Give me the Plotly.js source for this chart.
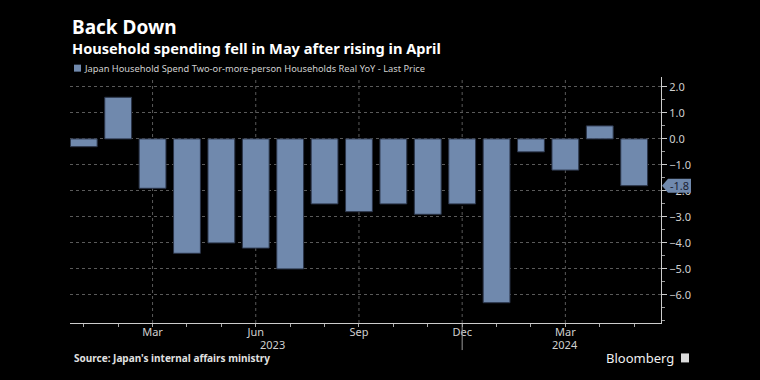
<!DOCTYPE html>
<html>
<head>
<meta charset="utf-8">
<script src="https://cdn.plot.ly/plotly-3.0.1.min.js"></script>
<style>html,body{margin:0;padding:0;background:#000;}#chart{width:760px;height:380px;}</style>
</head>
<body>
<div id="chart"></div>
<script>
// Data
const months = ["2023-01","2023-02","2023-03","2023-04","2023-05","2023-06","2023-07","2023-08","2023-09","2023-10","2023-11","2023-12","2024-01","2024-02","2024-03","2024-04","2024-05"];
const monthLabels = ["", "", "Mar", "", "", "Jun", "", "", "Sep", "", "", "Dec", "", "", "Mar", "", ""];
const spendYoY = [-0.3, 1.6, -1.9, -4.4, -4.0, -4.2, -5.0, -2.5, -2.8, -2.5, -2.9, -2.5, -6.3, -0.5, -1.2, 0.5, -1.8];
const yTicks = [2, 1, 0, -1, -2, -3, -4, -5, -6];
const years = ["2023", "2024"];
const seriesName = "Japan Household Spend Two-or-more-person Households Real YoY - Last Price";

const barColor = "#7089ad";
const textColor = "#d0d0d0";
const font = "Noto Sans, DejaVu Sans, sans-serif";

const idx = months.map((m, i) => i);
const lastVal = spendYoY[spendYoY.length - 1];

const yearAnns = years.map(y => {
  const ii = idx.filter(i => months[i].startsWith(y));
  const mid = (ii[0] + ii[ii.length - 1]) / 2;
  return {x: mid, xref: "x", y: -0.088, yref: "paper", text: y, showarrow: false,
          yanchor: "middle", font: {family: font, size: 11, color: textColor}};
});

const labeled = idx.filter(i => monthLabels[i] !== "");
const shapes = labeled.map(i => ({
  type: "line", xref: "x", yref: "paper", x0: i, x1: i, y0: 0, y1: 1,
  line: {color: "#5a5a5a", width: 1, dash: "dot"}, layer: "below"
}));
const decIdx = idx.find(i => months[i] === "2023-12");
shapes.push({type: "line", xref: "x", yref: "paper", x0: decIdx, x1: decIdx, y0: -0.004, y1: -0.11,
  line: {color: "#9a9a9a", width: 1}});

// last price tag
shapes.push({
  type: "path", xref: "paper", yref: "y", xsizemode: "pixel", ysizemode: "pixel",
  xanchor: 1, yanchor: lastVal,
  path: "M 1,0 L 7,-7 L 30,-7 L 30,7 L 7,7 Z",
  fillcolor: barColor, line: {width: 0}
});
// legend swatch
shapes.push({
  type: "rect", xref: "paper", yref: "paper", xsizemode: "pixel", ysizemode: "pixel",
  xanchor: 0, yanchor: 1.036, x0: 4, x1: 11, y0: -3.5, y1: 3.5,
  fillcolor: barColor, line: {width: 0}
});
// Bloomberg logo mark
shapes.push({
  type: "rect", xref: "paper", yref: "paper", xsizemode: "pixel", ysizemode: "pixel",
  xanchor: 1, yanchor: -0.142, x0: 20, x1: 28, y0: -4.5, y1: 4.5,
  fillcolor: "#dcdcdc", line: {width: 0}
});

const data = [{
  type: "bar", x: idx, y: spendYoY, name: seriesName,
  marker: {color: barColor, line: {color: "#2a3448", width: 1}},
  width: 0.78, hoverinfo: "skip"
}];

const layout = {
  width: 760, height: 380,
  paper_bgcolor: "#000", plot_bgcolor: "#000",
  margin: {l: 70, r: 99, t: 77, b: 57},
  showlegend: false,
  font: {family: font, color: textColor, size: 11},
  xaxis: {
    type: "linear", range: [-0.4, 16.78],
    tickmode: "array", tickvals: idx, ticktext: monthLabels,
    ticks: "outside", ticklen: 3, tickcolor: "#aaa", ticklabelstandoff: -4,
    showgrid: false, zeroline: false,
    showline: true, linecolor: "#ccc", linewidth: 1,
    tickfont: {family: font, size: 11, color: textColor}
  },
  yaxis: {
    side: "right", range: [-7.08, 2.38],
    tickmode: "array", tickvals: yTicks, tickformat: ".1f",
    ticks: "outside", ticklen: 5, tickcolor: "#ccc",
    minor: {dtick: 0.5, tick0: 0, ticks: "outside", ticklen: 3, tickcolor: "#999", showgrid: false},
    showgrid: true, gridcolor: "#5a5a5a", griddash: "dot",
    zeroline: false, showline: true, linecolor: "#ccc", linewidth: 1,
    tickfont: {family: font, size: 11, color: textColor}
  },
  shapes: shapes,
  annotations: [
    {x: 0, xref: "paper", y: 1.204, yref: "paper", xanchor: "left", yanchor: "middle", showarrow: false,
     text: "<b>Back Down</b>", font: {family: font, size: 19, color: "#ffffff"}},
    {x: 0, xref: "paper", y: 1.117, yref: "paper", xanchor: "left", yanchor: "middle", showarrow: false,
     text: "<b>Household spending fell in May after rising in April</b>", font: {family: font, size: 14.6, color: "#ffffff"}},
    {x: 0, xref: "paper", xshift: 12, y: 1.036, yref: "paper", xanchor: "left", yanchor: "middle", showarrow: false,
     text: seriesName, font: {family: font, size: 9.3, color: textColor}},
    {x: 1, xref: "paper", xshift: 7, y: lastVal, yref: "y", xanchor: "left", yanchor: "middle", showarrow: false,
     text: lastVal.toFixed(1), font: {family: font, size: 11, color: "#1b2233"}},
    {x: 0, xref: "paper", xshift: 2, y: -0.142, yref: "paper", xanchor: "left", yanchor: "middle", showarrow: false,
     text: "<b>Source: Japan's internal affairs ministry</b>", font: {family: font, size: 10, color: "#e0e0e0"}},
    {x: 1, xref: "paper", xshift: 15, y: -0.142, yref: "paper", xanchor: "right", yanchor: "middle", showarrow: false,
     text: "Bloomberg", font: {family: font, size: 13, color: "#f0f0f0"}}
  ].concat(yearAnns)
};

Plotly.newPlot("chart", data, layout, {displayModeBar: false, staticPlot: true});
</script>
</body>
</html>
